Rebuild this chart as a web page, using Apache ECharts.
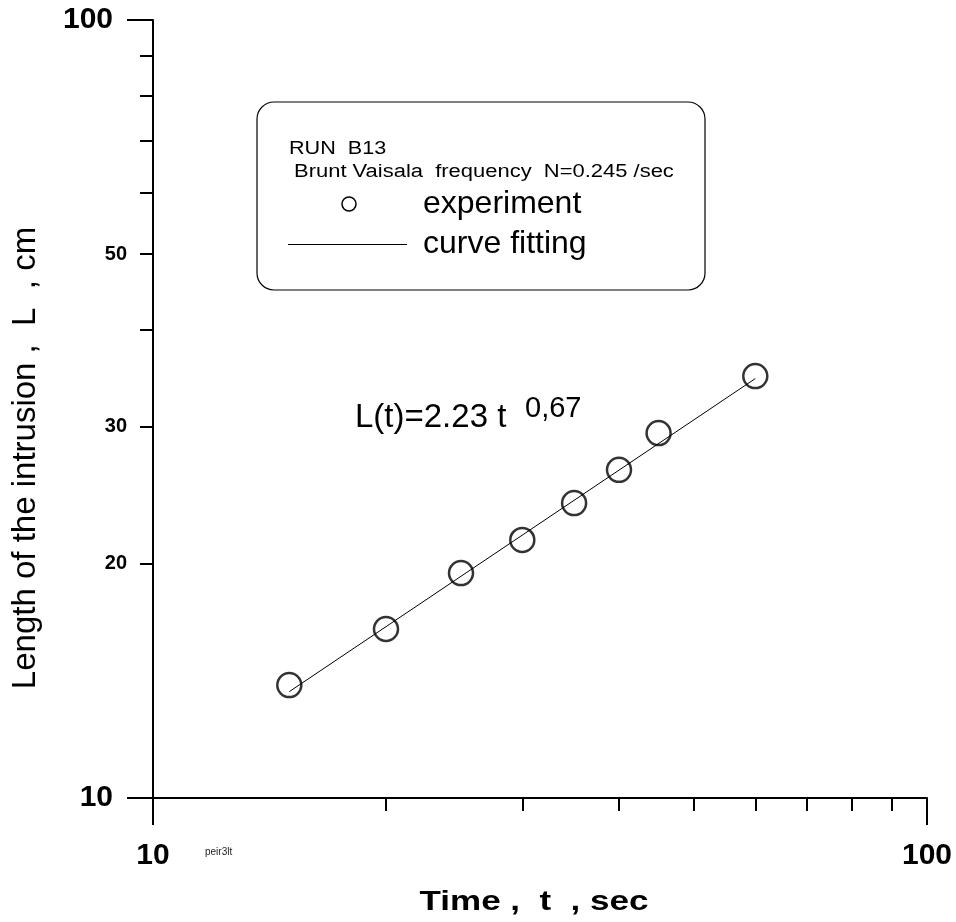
<!DOCTYPE html>
<html>
<head>
<meta charset="utf-8">
<script src="https://cdn.jsdelivr.net/npm/echarts@6/dist/echarts.min.js"></script>
<style>html,body{margin:0;padding:0;background:#fff;}#c{width:956px;height:922px;}</style>
</head>
<body>
<div id="c"></div>
<script>
// ---- data ----
const timeSec = [15, 20, 25, 30, 35, 40, 45, 60];
const lengthCm = [13.97, 16.49, 19.46, 21.46, 23.94, 26.41, 29.45, 34.86];
const fitTime = [15, 60];
const fitLength = [13.7, 34.6];
const xMajorTicks = [10, 100];
const xMinorTicks = [20, 30, 40, 50, 60, 70, 80, 90];
const yMajorTicks = [10, 100];
const yMinorTicks = [20, 30, 40, 50, 60, 70, 80, 90];
const yMinorLabels = [20, 30, 50];

const FONT = "'Liberation Sans', Arial, Helvetica, sans-serif";
const chart = echarts.init(document.getElementById('c'), null, {renderer: 'canvas'});

const expData = timeSec.map((t, i) => [t, lengthCm[i]]);
const fitData = fitTime.map((t, i) => [t, fitLength[i]]);

function logAxis(extra) {
  return Object.assign({
    type: 'log', logBase: 10, min: 10, max: 100, gridIndex: 0,
    splitLine: {show: false}, minorTick: {show: false}, minorSplitLine: {show: false}
  }, extra);
}

const option = {
  backgroundColor: '#fff',
  animation: false,
  grid: {left: 153, right: 29, top: 20, bottom: 124, containLabel: false},
  xAxis: [
    logAxis({
      position: 'bottom',
      axisLine: {show: true, lineStyle: {color: '#000', width: 2}},
      axisTick: {show: true, inside: false, length: 27, customValues: xMajorTicks, lineStyle: {color: '#000', width: 2}},
      axisLabel: {show: true, customValues: xMajorTicks, margin: 43, color: '#000', fontFamily: FONT, fontSize: 30, fontWeight: 'bold', formatter: v => String(v)}
    }),
    logAxis({
      position: 'bottom',
      axisLine: {show: false},
      axisTick: {show: true, inside: false, length: 13, customValues: xMinorTicks, lineStyle: {color: '#000', width: 2}},
      axisLabel: {show: false}
    })
  ],
  yAxis: [
    logAxis({
      position: 'left',
      axisLine: {show: true, lineStyle: {color: '#000', width: 2}},
      axisTick: {show: true, inside: false, length: 26, customValues: yMajorTicks, lineStyle: {color: '#000', width: 2}},
      axisLabel: {show: true, customValues: yMajorTicks, margin: 40, color: '#000', fontFamily: FONT, fontSize: 30, fontWeight: 'bold', formatter: v => String(v)}
    }),
    logAxis({
      position: 'left',
      axisLine: {show: false},
      axisTick: {show: true, inside: false, length: 13, customValues: yMinorTicks, lineStyle: {color: '#000', width: 2}},
      axisLabel: {show: true, customValues: yMinorLabels, margin: 26, color: '#000', fontFamily: FONT, fontSize: 20, fontWeight: 'bold', formatter: v => String(v)}
    })
  ],
  series: [
    {
      name: 'curve fitting', type: 'line', xAxisIndex: 0, yAxisIndex: 0,
      data: fitData, showSymbol: false, symbol: 'none',
      lineStyle: {color: '#000', width: 1}, z: 2
    },
    {
      name: 'experiment', type: 'scatter', xAxisIndex: 0, yAxisIndex: 0,
      data: expData, symbol: 'circle', symbolSize: 24,
      itemStyle: {color: 'rgba(0,0,0,0)', borderColor: '#000', borderWidth: 2.5}, z: 3
    }
  ],
  graphic: [
    {type: 'rect', shape: {x: 257, y: 102, width: 448, height: 188, r: 17},
     style: {fill: 'rgba(0,0,0,0)', stroke: '#000', lineWidth: 1.2}},
    {type: 'text', x: 289, y: 149, scaleX: 1.2,
     style: {text: 'RUN  B13', fontFamily: FONT, fontSize: 18, fill: '#000', align: 'left', verticalAlign: 'middle'}},
    {type: 'text', x: 294, y: 172, scaleX: 1.22,
     style: {text: 'Brunt Vaisala  frequency  N=0.245 /sec', fontFamily: FONT, fontSize: 18, fill: '#000', align: 'left', verticalAlign: 'middle'}},
    {type: 'circle', shape: {cx: 349, cy: 204, r: 7}, style: {fill: 'rgba(0,0,0,0)', stroke: '#000', lineWidth: 1.5}},
    {type: 'text', x: 423, y: 204,
     style: {text: 'experiment', fontFamily: FONT, fontSize: 32, fill: '#000', align: 'left', verticalAlign: 'middle'}},
    {type: 'line', shape: {x1: 288, y1: 244.5, x2: 407, y2: 244.5}, style: {stroke: '#000', lineWidth: 1}},
    {type: 'text', x: 423, y: 244,
     style: {text: 'curve fitting', fontFamily: FONT, fontSize: 32, fill: '#000', align: 'left', verticalAlign: 'middle'}},
    {type: 'text', x: 355, y: 418,
     style: {text: 'L(t)=2.23 t', fontFamily: FONT, fontSize: 33, fill: '#000', align: 'left', verticalAlign: 'middle'}},
    {type: 'text', x: 525, y: 409,
     style: {text: '0,67', fontFamily: FONT, fontSize: 29, fill: '#000', align: 'left', verticalAlign: 'middle'}},
    {type: 'text', x: 205, y: 852,
     style: {text: 'peir3lt', fontFamily: FONT, fontSize: 10, fill: '#222', align: 'left', verticalAlign: 'middle'}},
    {type: 'text', x: 534, y: 902, scaleX: 1.25,
     style: {text: 'Time ,  t  , sec', fontFamily: FONT, fontSize: 28, fontWeight: 'bold', fill: '#000', align: 'center', verticalAlign: 'middle'}},
    {type: 'text', x: 26, y: 458, rotation: Math.PI / 2,
     style: {text: 'Length of the intrusion ,  L  , cm', fontFamily: FONT, fontSize: 33, fill: '#000', align: 'center', verticalAlign: 'middle'}}
  ]
};
chart.setOption(option);
</script>
</body>
</html>
